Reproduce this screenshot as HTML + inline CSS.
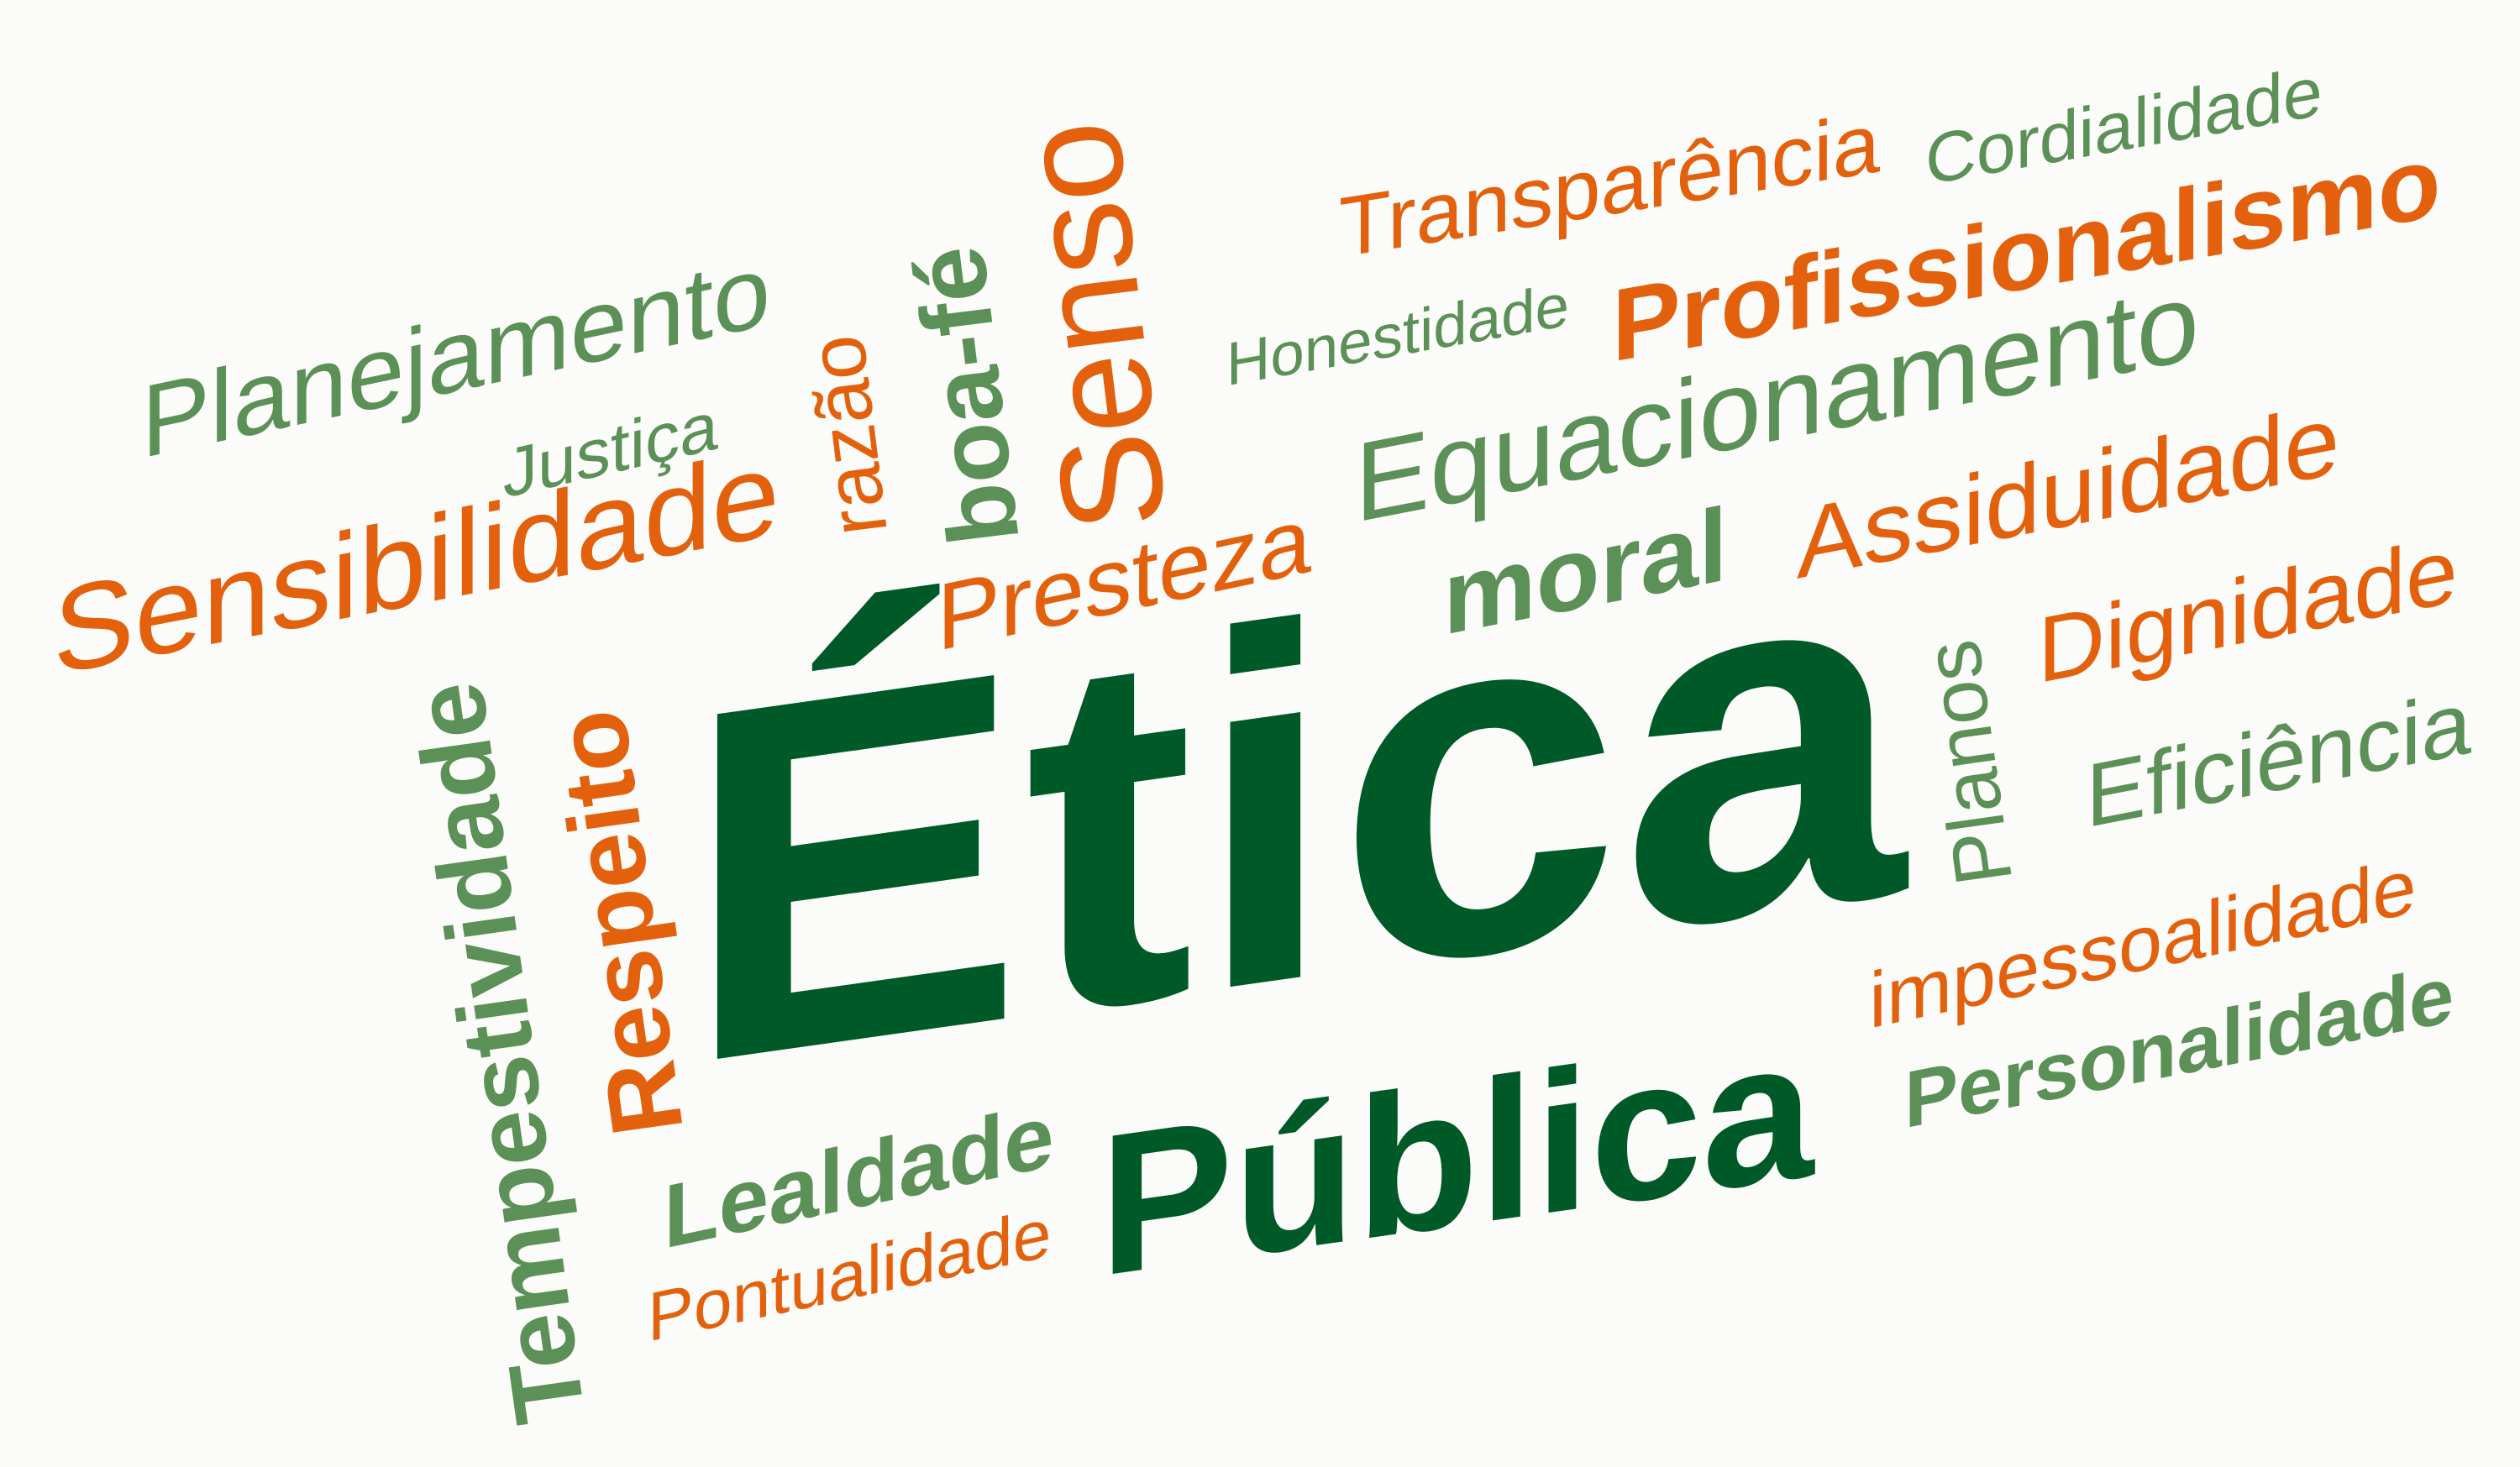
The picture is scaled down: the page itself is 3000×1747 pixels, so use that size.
<!DOCTYPE html>
<html><head><meta charset="utf-8"><style>
html,body{margin:0;padding:0;background:#fbfbf9;}
svg{display:block;}
text{font-family:"Liberation Sans",sans-serif;}
.o{fill:#e3610c}.g{fill:#5b9056}.d{fill:#005a28}.b{font-weight:bold}
</style></head><body>
<svg width="3000" height="1747" viewBox="0 0 1568 913" xmlns="http://www.w3.org/2000/svg">
<rect x="0" y="0" width="1568" height="913" fill="#fbfbf9"/>
<text class="d b" font-size="312" transform="translate(425,662) skewY(-8) scale(1.02,1)">Ética</text>
<text class="d b" font-size="125" transform="translate(684,794) skewY(-8)">Pública</text>
<text class="o" font-size="53" transform="translate(833,160) skewY(-9)">Transparência</text>
<text class="g" font-size="44" transform="translate(1198,115) skewY(-10)">Cordialidade</text>
<text class="o b" font-size="64" transform="translate(1003,225) skewY(-10)">Profissionalismo</text>
<text class="g" font-size="38" transform="translate(763,240) skewY(-10)">Honestidade</text>
<text class="g" font-size="64" transform="translate(88,285) skewY(-12)">Planejamento</text>
<text class="g" font-size="43" transform="translate(313,310) skewY(-13)">Justiça</text>
<text class="o" font-size="76" transform="translate(33,420) skewY(-11)">Sensibilidade</text>
<text class="g" font-size="70" transform="translate(843,325) skewY(-11)">Equacionamento</text>
<text class="o" font-size="59" transform="translate(583,405) skewY(-12)">Presteza</text>
<text class="g b" font-size="65" transform="translate(898,395) skewY(-11)">moral</text>
<text class="o" font-size="62" transform="translate(1118,360) skewY(-11)">Assiduidade</text>
<text class="o" font-size="58" transform="translate(1268,425) skewY(-11)">Dignidade</text>
<text class="g" font-size="56" transform="translate(1298,515) skewY(-11)">Eficiência</text>
<text class="o" font-size="49" transform="translate(1163,640) skewY(-12)">impessoalidade</text>
<text class="g b" font-size="50" transform="translate(1185,702) skewY(-11)">Personalidade</text>
<text class="g b" font-size="56" transform="translate(413,777) skewY(-12)">Lealdade</text>
<text class="o" font-size="43" transform="translate(403,835) skewY(-12)">Pontualidade</text>
<text class="o" font-size="90" transform="translate(726,326) rotate(-97)">Senso</text>
<text class="g b" font-size="62" transform="translate(634,336) rotate(-97)">boa-fé</text>
<text class="o" font-size="50" transform="translate(552,331) rotate(-97)">razão</text>
<text class="g" font-size="50" transform="translate(1252,548) rotate(-98)">Planos</text>
<text class="g b" font-size="62" transform="translate(364,882) rotate(-98)">Tempestividade</text>
<text class="o b" font-size="63" transform="translate(425,703) rotate(-98)">Respeito</text>
</svg>
</body></html>
